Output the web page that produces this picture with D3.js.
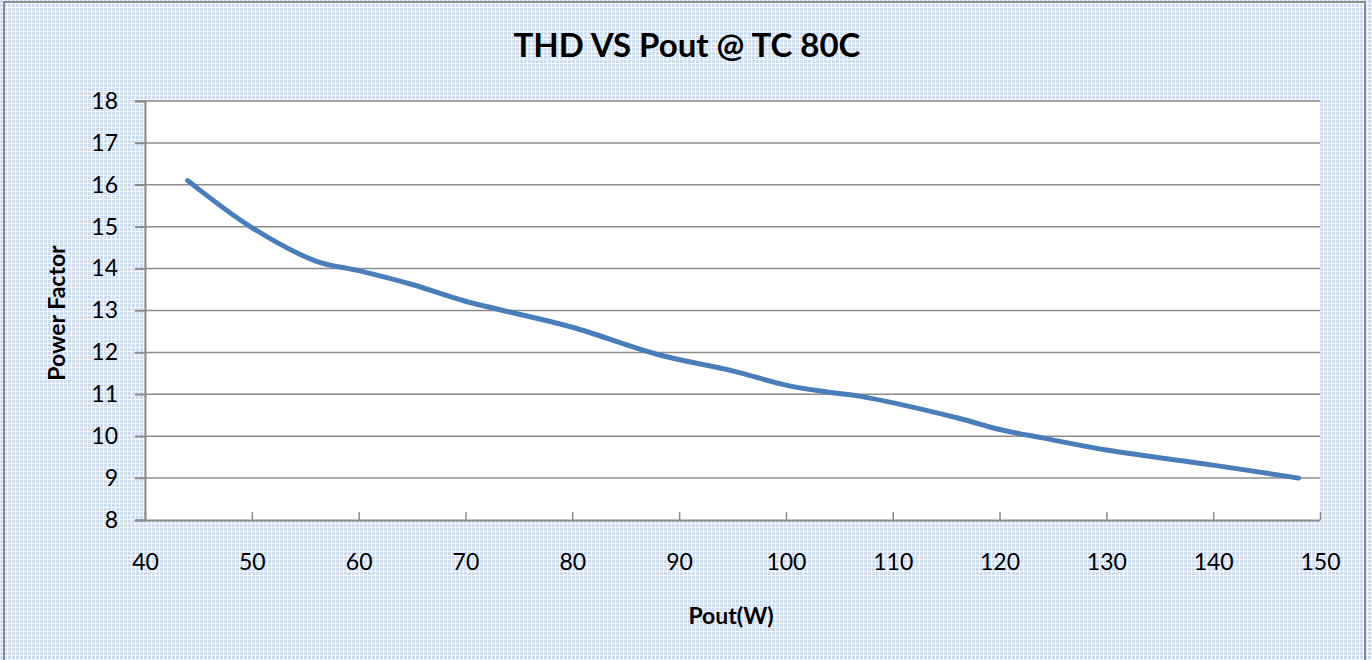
<!DOCTYPE html>
<html><head><meta charset="utf-8">
<script src="https://cdn.jsdelivr.net/npm/d3@7"></script>
<style>html,body{margin:0;padding:0;background:#fff;}svg{display:block;}</style>
</head><body>
<svg id="c" width="1372" height="660"></svg>
<script>
const poutW = [44, 50, 56, 60, 65, 70, 80, 88, 95, 100, 104, 107, 116, 120, 124, 130, 140, 148];
const thdValues = [16.1, 14.98, 14.18, 13.95, 13.62, 13.22, 12.6, 11.95, 11.56, 11.22, 11.05, 10.95, 10.44, 10.16, 9.96, 9.67, 9.31, 9.0];
const xTicks = [40, 50, 60, 70, 80, 90, 100, 110, 120, 130, 140, 150];
const yTicks = [8, 9, 10, 11, 12, 13, 14, 15, 16, 17, 18];
const titleText = "THD VS Pout @ TC 80C";
const xTitle = "Pout(W)";
const yTitle = "Power Factor";

const svg = d3.select("#c");
const W = 1372, H = 660;
const font = "Lato, 'Open Sans', sans-serif";

const defs = svg.append("defs");
const pat = defs.append("pattern").attr("id","bgp").attr("width",4).attr("height",4).attr("patternUnits","userSpaceOnUse");
pat.append("rect").attr("width",4).attr("height",4).attr("fill","#cfddf1");
pat.append("rect").attr("x",0).attr("y",3).attr("width",4).attr("height",1).attr("fill","#f4f7fc");
pat.append("rect").attr("x",3).attr("y",0).attr("width",1).attr("height",4).attr("fill","#f4f7fc");
pat.append("rect").attr("x",3).attr("y",3).attr("width",1).attr("height",1).attr("fill","#ffffff");

svg.append("rect").attr("width",W).attr("height",H).attr("fill","url(#bgp)");
svg.append("rect").attr("x",4).attr("y",2).attr("width",1361).attr("height",H+10)
  .attr("fill","none").attr("stroke","#8c8c8c").attr("stroke-width",2);

const L = 145, R = 1320, T = 101, B = 520;
const x = d3.scaleLinear().domain([40,150]).range([L,R]);
const y = d3.scaleLinear().domain([8,18]).range([B,T]);

svg.append("rect").attr("x",L).attr("y",T).attr("width",R-L).attr("height",B-T).attr("fill","#fff");

// gridlines
svg.append("g").selectAll("line").data(yTicks.filter(d=>d!==8)).join("line")
  .attr("x1",L-10).attr("x2",R).attr("y1",d=>y(d)).attr("y2",d=>y(d))
  .attr("stroke","#8c8c8c").attr("stroke-width",1.5);

// y axis
const ya = svg.append("g").attr("transform",`translate(${L},0)`)
  .call(d3.axisLeft(y).tickValues(yTicks).tickSize(10).tickPadding(17).tickFormat(d3.format("d")));
ya.select(".domain").attr("stroke","#8c8c8c").attr("stroke-width",2);
ya.selectAll(".tick line").attr("stroke","#8c8c8c").attr("stroke-width",1.5);
ya.selectAll("text").attr("font-family",font).attr("font-size",23).attr("fill","#000");

// x axis
const xa = svg.append("g").attr("transform",`translate(0,${B})`)
  .call(d3.axisBottom(x).tickValues(xTicks).tickSizeInner(-8).tickSizeOuter(0).tickPadding(34).tickFormat(d3.format("d")));
xa.select(".domain").attr("stroke","#8c8c8c").attr("stroke-width",2).attr("d",`M${L-10},0.5H${R}`);
xa.selectAll(".tick line").attr("stroke","#8c8c8c").attr("stroke-width",1.5);
xa.selectAll("text").attr("font-family",font).attr("font-size",23).attr("fill","#000");

// line
const pts = poutW.map((v,i)=>[v, thdValues[i]]);
svg.append("path").datum(pts)
  .attr("d", d3.line().x(d=>x(d[0])).y(d=>y(d[1])).curve(d3.curveCatmullRom.alpha(0.5)))
  .attr("fill","none").attr("stroke","#4a7ebb").attr("stroke-width",5).attr("stroke-linecap","round").attr("stroke-linejoin","round");

// titles
svg.append("text").attr("x",687).attr("y",57).attr("text-anchor","middle")
  .attr("font-family",font).attr("font-weight","bold").attr("font-size",33).text(titleText);
svg.append("text").attr("x",731).attr("y",624).attr("text-anchor","middle")
  .attr("font-family",font).attr("font-weight","bold").attr("font-size",23).text(xTitle);
svg.append("text").attr("transform","translate(65,313) rotate(-90)").attr("text-anchor","middle")
  .attr("font-family",font).attr("font-weight","bold").attr("font-size",23).text(yTitle);
</script>
</body></html>
